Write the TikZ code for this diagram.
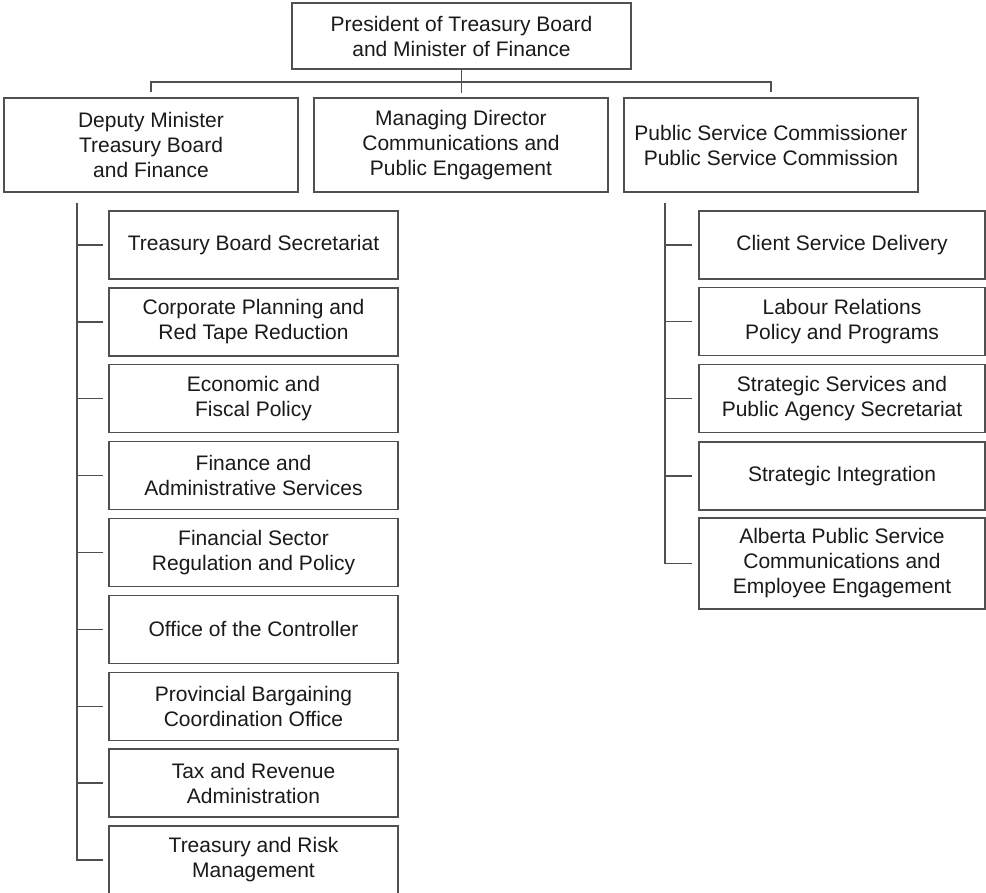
\documentclass[tikz,border=0pt]{standalone}
\usepackage{fontspec}
\setmainfont{Liberation Sans}
\definecolor{linegray}{HTML}{505050}
\definecolor{textgray}{HTML}{1A1A1A}
\begin{document}
\begin{tikzpicture}[x=1pt,y=-1pt,
  box/.style={draw=linegray,line width=1.3pt,fill=white,align=center,
    text=textgray,inner sep=0pt,font=\fontsize{21}{25}\selectfont},
  topbox/.style={box,minimum width=339pt,minimum height=66pt},
  midbox/.style={box,minimum width=294pt,minimum height=94pt},
  leftbox/.style={box,minimum width=289pt,minimum height=68pt},
  rightbox/.style={box,minimum width=286pt,minimum height=68pt},
  conn/.style={draw=linegray,line width=1.3pt}]
\useasboundingbox (0,0) rectangle (986,893);
\fill[white] (0,0) rectangle (986,893);

\node[topbox] (top) at (461.5,36) {President of Treasury Board\\and Minister of Finance};

\node[midbox] (dm) at (151,145) {Deputy Minister\\Treasury Board\\and Finance};
\node[midbox] (md) at (461,145) {Managing Director\\Communications and\\Public Engagement};
\node[midbox] (psc) at (771,145) {Public Service Commissioner\\Public Service Commission};

\coordinate (jA) at (151,92);
\coordinate (jB) at (461.5,93);
\coordinate (jC) at (771,92);
\coordinate (bar) at (461.5,82);
\draw[conn] (jA) |- (bar) -| (jC);
\draw[conn] (top.south) -- (jB);

% left column
\node[leftbox] (L1) at (253.5,245) {Treasury Board Secretariat};
\node[leftbox] (L2) at (253.5,321.9) {Corporate Planning and\\Red Tape Reduction};
\node[leftbox] (L3) at (253.5,398.75) {Economic and\\Fiscal Policy};
\node[leftbox] (L4) at (253.5,475.6) {Finance and\\Administrative Services};
\node[leftbox] (L5) at (253.5,552.5) {Financial Sector\\Regulation and Policy};
\node[leftbox] (L6) at (253.5,629.4) {Office of the Controller};
\node[leftbox] (L7) at (253.5,706.25) {Provincial Bargaining\\Coordination Office};
\node[leftbox] (L8) at (253.5,783.1) {Tax and Revenue\\Administration};
\node[leftbox] (L9) at (253.5,860) {Treasury and Risk\\Management};

\coordinate (tL) at (77,203);
\draw[conn] (tL) |- ([xshift=-5pt]L9.west);
\foreach \i in {1,...,8}{
  \draw[conn] (tL |- L\i.west) -- ([xshift=-5pt]L\i.west);
}

% right column
\node[rightbox] (R1) at (842,245) {Client Service Delivery};
\node[rightbox] (R2) at (842,321.5) {Labour Relations\\Policy and Programs};
\node[rightbox] (R3) at (842,398.5) {Strategic Services and\\Public Agency Secretariat};
\node[rightbox] (R4) at (842,476) {Strategic Integration};
\node[rightbox,minimum height=91pt] (R5) at (842,563.5) {Alberta Public Service\\Communications and\\Employee Engagement};

\coordinate (tR) at (665,203);
\draw[conn] (tR) |- ([xshift=-6pt]R5.west);
\foreach \i in {1,...,4}{
  \draw[conn] (tR |- R\i.west) -- ([xshift=-6pt]R\i.west);
}
\end{tikzpicture}
\end{document}
